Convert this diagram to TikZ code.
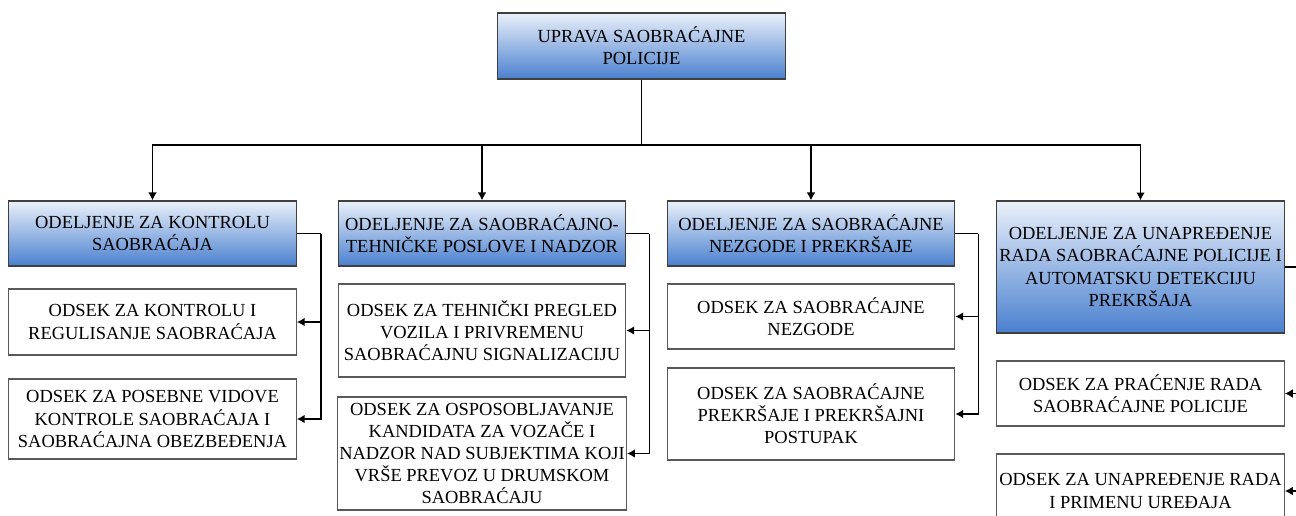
\documentclass[tikz,border=0pt]{standalone}
\usepackage{fontspec}
\setmainfont{Liberation Serif}
\usetikzlibrary{arrows.meta,calc}
\definecolor{GTop}{HTML}{EAF0FA}
\definecolor{GMid}{HTML}{B6CBEC}
\definecolor{GBot}{HTML}{4A80CF}
\tikzset{
    dept/.style = {draw=black!75, line width=0.7pt, rectangle, align=center,
        inner sep=1pt, minimum width=5.75cm,
        top color=GTop, middle color=GMid, bottom color=GBot,
        font=\fontsize{10.5}{12.6}\selectfont},
    sub/.style = {draw=black!65, line width=0.7pt, rectangle, align=center,
        inner sep=1pt, minimum width=5.75cm, fill=white,
        font=\fontsize{10.5}{12.6}\selectfont},
    conn/.style = {draw, line width=0.95pt, -{Latex[length=4.5pt,width=5pt]}},
    line/.style = {draw, line width=0.95pt}
}
\begin{document}
\begin{tikzpicture}[x=0.02cm,y=-0.02cm]
    \useasboundingbox (0,0) rectangle (1296,515);
    \clip (0,0) rectangle (1296,515);
    % head
    \node[dept, minimum height=1.32cm] (uprava) at (641.5,46) {UPRAVA SAOBRAĆAJNE\\POLICIJE};
    % departments
    \node[dept, minimum height=1.30cm] (od1) at (152.5,233.5) {ODELJENJE ZA KONTROLU\\SAOBRAĆAJA};
    \node[dept, minimum height=1.30cm] (od2) at (482,233.5) {ODELJENJE ZA SAOBRAĆAJNO-\\TEHNIČKE POSLOVE I NADZOR};
    \node[dept, minimum height=1.30cm] (od3) at (811,233.5) {ODELJENJE ZA SAOBRAĆAJNE\\NEZGODE I PREKRŠAJE};
    \node[dept, minimum height=2.64cm] (od4) at (1140.5,267) {ODELJENJE ZA UNAPREĐENJE\\RADA SAOBRAĆAJNE POLICIJE I\\AUTOMATSKU DETEKCIJU\\PREKRŠAJA};
    % sections
    \node[sub, minimum height=1.32cm] (os1a) at (152.5,322) {ODSEK ZA KONTROLU I\\REGULISANJE SAOBRAĆAJA};
    \node[sub, minimum height=1.60cm] (os1b) at (152.5,419) {ODSEK ZA POSEBNE VIDOVE\\KONTROLE SAOBRAĆAJA I\\SAOBRAĆAJNA OBEZBEĐENJA};
    \node[sub, minimum height=1.86cm] (os2a) at (482,330.5) {ODSEK ZA TEHNIČKI PREGLED\\VOZILA I PRIVREMENU\\SAOBRAĆAJNU SIGNALIZACIJU};
    \node[sub, minimum height=2.26cm] (os2b) at (482,453.5) {ODSEK ZA OSPOSOBLJAVANJE\\KANDIDATA ZA VOZAČE I\\NADZOR NAD SUBJEKTIMA KOJI\\VRŠE PREVOZ U DRUMSKOM\\SAOBRAĆAJU};
    \node[sub, minimum height=1.30cm] (os3a) at (811,316.5) {ODSEK ZA SAOBRAĆAJNE\\NEZGODE};
    \node[sub, minimum height=1.84cm] (os3b) at (811,414) {ODSEK ZA SAOBRAĆAJNE\\PREKRŠAJE I PREKRŠAJNI\\POSTUPAK};
    \node[sub, minimum height=1.30cm] (os4a) at (1140.5,393.5) {ODSEK ZA PRAĆENJE RADA\\SAOBRAĆAJNE POLICIJE};
    \node[sub, minimum height=1.48cm] (os4b) at (1140.5,491) {ODSEK ZA UNAPREĐENJE RADA\\I PRIMENU UREĐAJA};
    % bus
    \coordinate (bus) at (641.5,145);
    \draw[line] (uprava.south) -- (bus);
    \foreach \d in {od1,od2,od3,od4}
        \draw[conn] (bus) -| (\d.north);
    % brackets
    \draw[line] (od1.east) -- ++(24,0) coordinate (b1);
    \draw[line] (od2.east) -- ++(23,0) coordinate (b2);
    \draw[line] (od3.east) -- ++(23,0) coordinate (b3);
    \draw[line] (od4.east) -- ++(23,0) coordinate (b4);
    \draw[conn] (b1) |- (os1a.east);
    \draw[conn] (b1) |- (os1b.east);
    \draw[conn] (b2) |- (os2a.east);
    \draw[conn] (b2) |- (os2b.east);
    \draw[conn] (b3) |- (os3a.east);
    \draw[conn] (b3) |- (os3b.east);
    \draw[conn] (b4) |- (os4a.east);
    \draw[conn] (b4) |- (os4b.east);
\end{tikzpicture}
\end{document}
